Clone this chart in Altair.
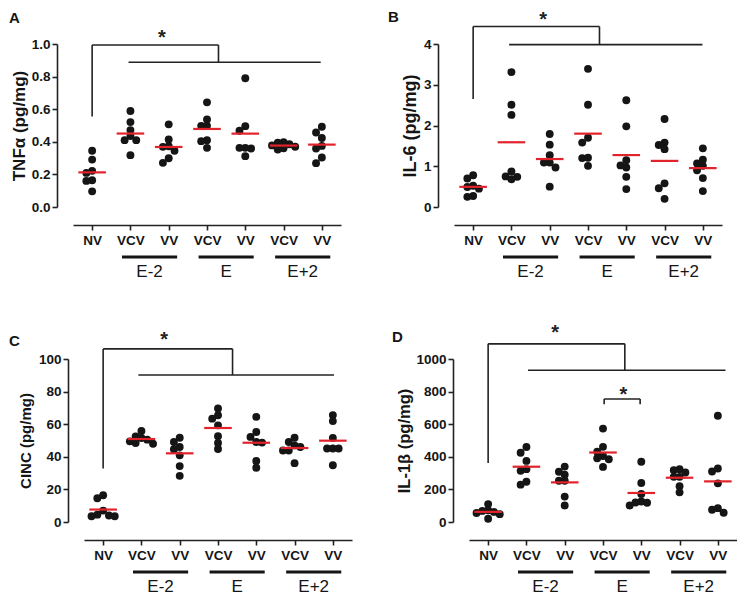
import altair as alt
import pandas as pd

FONT = "Liberation Sans"
RED = "#e2232b"
INK = "#151515"

CATEGORIES = ["NV", "VCV", "VV", "VCV", "VV", "VCV", "VV"]
GROUP_LABELS = ["E-2", "E", "E+2"]
GROUP_START = [1, 3, 5]
GROUP_END = [2, 4, 6]

# values per category (NV, VCV E-2, VV E-2, VCV E, VV E, VCV E+2, VV E+2)
TNF = [
    [0.345, 0.291, 0.222, 0.209, 0.164, 0.160, 0.096],
    [0.589, 0.521, 0.472, 0.435, 0.410, 0.410, 0.318],
    [0.507, 0.414, 0.373, 0.369, 0.345, 0.299, 0.271],
    [0.642, 0.537, 0.498, 0.498, 0.410, 0.404, 0.363],
    [0.790, 0.496, 0.468, 0.363, 0.363, 0.359, 0.312],
    [0.398, 0.395, 0.385, 0.378, 0.370, 0.360, 0.352],
    [0.492, 0.457, 0.423, 0.375, 0.359, 0.304, 0.269],
]
IL6 = [
    [0.78, 0.70, 0.52, 0.49, 0.45, 0.27, 0.25],
    [3.31, 2.51, 2.26, 0.87, 0.75, 0.74, 0.68],
    [1.79, 1.53, 1.27, 1.09, 1.09, 0.97, 0.50],
    [3.39, 2.51, 1.70, 1.58, 1.21, 1.20, 1.01],
    [2.62, 1.98, 1.15, 1.02, 0.97, 0.74, 0.44],
    [2.16, 1.58, 1.52, 1.42, 0.58, 0.46, 0.20],
    [1.44, 1.16, 1.07, 1.01, 0.90, 0.71, 0.39],
]
CINC = [
    [16.4, 14.6, 7.0, 4.5, 4.0, 3.5, 3.5],
    [55.9, 52.5, 51.5, 50.5, 49.5, 48.5, 48.0],
    [51.7, 49.1, 46.0, 44.6, 40.9, 34.3, 28.3],
    [69.6, 65.5, 63.4, 59.3, 52.6, 48.5, 44.8],
    [64.5, 55.2, 52.2, 49.1, 48.7, 37.4, 33.3],
    [51.7, 49.1, 47.0, 46.0, 43.9, 43.9, 36.1],
    [65.6, 61.9, 51.6, 45.1, 45.1, 45.1, 34.8],
]
IL1B = [
    [110, 72, 68, 62, 55, 48, 20],
    [460, 425, 375, 324, 314, 247, 229],
    [340, 308, 290, 253, 253, 156, 101],
    [573, 461, 431, 405, 391, 385, 338],
    [370, 239, 172, 126, 120, 118, 101],
    [324, 318, 304, 277, 277, 219, 182],
    [652, 328, 310, 237, 85, 75, 57],
]

# significance brackets: segments [x1, y1, x2, y2] and stars [x, y]
TNF_BRACKET = [[0, 0.555, 0, 0.994], [0, 0.994, 3.3, 0.994],
               [3.3, 0.994, 3.3, 0.888], [0.95, 0.888, 5.97, 0.888]]
TNF_STARS = [[1.82, 1.07]]
IL6_BRACKET = [[0, 2.65, 0, 4.43], [0, 4.43, 3.3, 4.43],
               [3.3, 4.43, 3.3, 3.985], [0.94, 3.985, 5.99, 3.985]]
IL6_STARS = [[1.83, 4.71]]
CINC_BRACKET = [[0, 32.8, 0, 106.2], [0, 106.2, 3.38, 106.2],
                [3.38, 106.2, 3.38, 90.2], [0.92, 90.2, 6.03, 90.2]]
CINC_STARS = [[1.59, 115]]
IL1B_BRACKET = [[0, 362, 0, 1093], [0, 1093, 3.57, 1093],
                [3.57, 1093, 3.57, 931], [1.04, 931, 6.2, 931],
                [3.03, 722, 3.03, 755], [3.03, 755, 3.97, 755], [3.97, 755, 3.97, 722]]
IL1B_STARS = [[1.75, 1189], [3.53, 808]]

W, H = 268, 163


def swarm(groups, ymax):
    """Deterministic beeswarm: spread overlapping dots sideways."""
    ppu = H / ymax
    step, mind = 5.8, 5.8
    rows = []
    for gi, vals in enumerate(groups):
        placed = []
        for v in sorted(vals, reverse=True):
            yp = v * ppu
            xo = 0.0
            for k in [0, -1, 1, -2, 2, -3, 3]:
                xo = k * step
                if all((xo - a) ** 2 + (yp - b) ** 2 >= mind ** 2 for a, b in placed):
                    break
            placed.append((xo, yp))
            rows.append({"idx": gi, "value": v, "x": gi + xo / W * 7.0})
    return pd.DataFrame(rows)


def panel(letter, groups, ymax, ystep, yfmt, ytitle, segs, stars,
          letter_xy, title_size, title_pad):
    pts = swarm(groups, ymax)
    expr = "[" + ",".join("'%s'" % c for c in CATEGORIES) + "][datum.value]"
    xscale = alt.Scale(domain=[-0.5, 6.5], nice=False, zero=False)
    yscale = alt.Scale(domain=[0, ymax], nice=False)
    nt = int(round(ymax / ystep))
    yvals = [round(i * ystep, 4) for i in range(nt + 1)]
    xaxis = alt.Axis(values=list(range(7)), labelExpr=expr, offset=18, title=None,
                     labelPadding=3, labelFontSize=13.5)
    yaxis = alt.Axis(values=yvals, format=yfmt, offset=16, title=ytitle,
                     titleFontSize=title_size, titlePadding=title_pad,
                     labelPadding=2, labelFontSize=13.5)

    def X(f):
        return alt.X(f, type="quantitative", scale=xscale, axis=xaxis)

    def Y(f):
        return alt.Y(f, type="quantitative", scale=yscale, axis=yaxis)

    points = alt.Chart(pts).mark_circle(size=62, color=INK, opacity=1).encode(
        x=X("x"), y=Y("value"),
    )
    means = alt.Chart(pts).transform_aggregate(
        m="mean(value)", groupby=["idx"]
    ).transform_calculate(a="datum.idx - 0.36", b="datum.idx + 0.36").mark_rule(
        color=RED, strokeWidth=2.2
    ).encode(x=X("a"), x2="b:Q", y=Y("m"))
    seg_df = pd.DataFrame(segs, columns=["x1", "y1", "x2", "y2"])
    brackets = alt.Chart(seg_df).mark_rule(color="#222", strokeWidth=1.6).encode(
        x=X("x1"), x2="x2:Q", y=Y("y1"), y2="y2:Q"
    )
    star_df = pd.DataFrame(stars, columns=["sx", "sy"])
    star_mark = alt.Chart(star_df).mark_text(
        text="*", fontSize=20, fontWeight="bold", baseline="middle", dy=5, color="#222"
    ).encode(x=X("sx"), y=Y("sy"))
    gdf = pd.DataFrame({"label": GROUP_LABELS, "start": GROUP_START, "end": GROUP_END})
    gbars = alt.Chart(gdf).transform_calculate(
        a="datum.start - 0.22", b="datum.end + 0.22"
    ).mark_rule(strokeWidth=3, color=INK).encode(
        x=X("a"), x2="b:Q", y=alt.value(H + 50)
    )
    glabels = alt.Chart(gdf).transform_calculate(
        m="(datum.start + datum.end) / 2"
    ).mark_text(fontSize=17, baseline="middle", color=INK).encode(
        x=X("m"), y=alt.value(H + 65), text="label:N"
    )
    lt = alt.Chart(pd.DataFrame({"t": [letter]})).mark_text(
        align="left", baseline="alphabetic", fontSize=15, fontWeight="bold", color=INK
    ).encode(x=alt.value(letter_xy[0]), y=alt.value(letter_xy[1]), text="t:N")
    return alt.layer(points, means, brackets, star_mark, gbars, glabels, lt).properties(
        width=W, height=H
    )


def spacer():
    return alt.Chart(pd.DataFrame({"s": [0]})).mark_point(opacity=0, size=0).encode(
        x=alt.value(0), y=alt.value(0)
    ).properties(width=1, height=1)


pA = panel("A", TNF, 1.0, 0.2, ".1f", "TNFα (pg/mg)", TNF_BRACKET, TNF_STARS,
           (-64, -21), 17, 3)
pB = panel("B", IL6, 4, 1, "d", "IL-6 (pg/mg)", IL6_BRACKET, IL6_STARS,
           (-66, -22), 18, 4)
pC = panel("C", CINC, 100, 20, "d", "CINC (pg/mg)", CINC_BRACKET, CINC_STARS,
           (-75, -13), 15, 5)
pD = panel("D", IL1B, 1000, 200, "d", "IL-1β (pg/mg)", IL1B_BRACKET, IL1B_STARS,
           (-77, -17), 16.5, 3)

row1 = alt.hconcat(spacer(), alt.hconcat(pA, pB, spacing=47), spacing=0)
row2 = alt.hconcat(spacer(), alt.hconcat(pC, pD, spacing=40), spacing=0)

chart = alt.vconcat(row1, row2, spacing=43).properties(
    padding={"left": 0, "top": 2, "right": 0, "bottom": 0}
).configure(font=FONT).configure_view(stroke=None).configure_axis(
    labelFont=FONT, labelFontWeight="bold", labelColor=INK,
    titleFont=FONT, titleFontWeight="bold", titleColor=INK,
    domainColor="#222", domainWidth=1.6, tickColor="#222", tickWidth=1.6,
    tickSize=5, grid=False,
)

chart.save("out.html", embed_options={"renderer": "svg", "actions": False})
